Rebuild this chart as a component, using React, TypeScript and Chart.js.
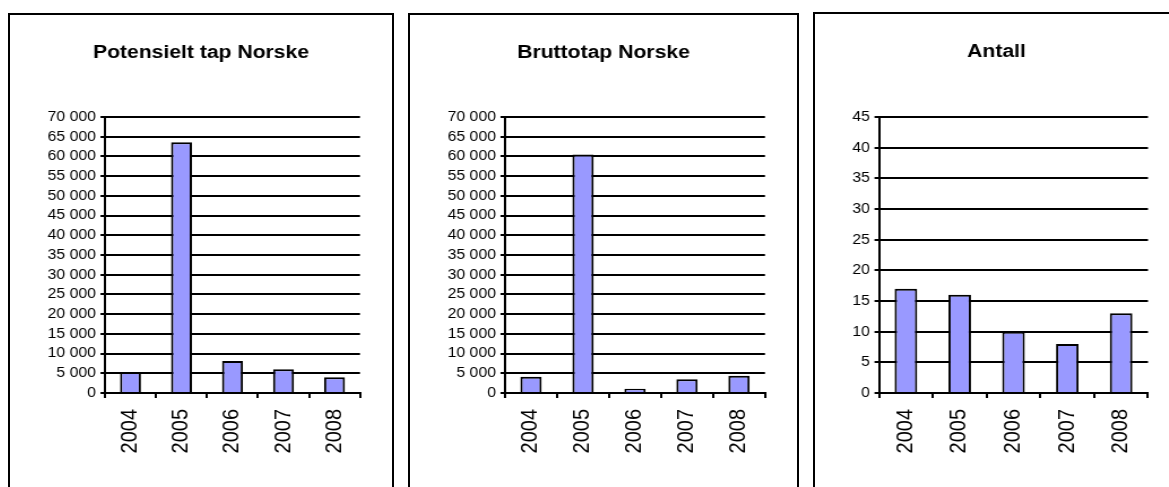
import React, { useEffect, useRef } from 'react';
import { Chart, registerables } from 'chart.js';

Chart.register(...registerables);

// ---- Data ----
const years = ['2004', '2005', '2006', '2007', '2008'];
const potensieltTap = [5300, 63600, 8100, 6000, 4000];
const bruttotap = [4100, 60500, 1100, 3500, 4400];
const antall = [17, 16, 10, 8, 13];

const titles = ['Potensielt tap Norske', 'Bruttotap Norske', 'Antall'];
const yMaxes = [70000, 70000, 45];
const ySteps = [5000, 5000, 5];

const FONT = "'Liberation Sans', Arial, Helvetica, sans-serif";
const STRETCH = 1.13; // horizontal stretch of the reference rendering

const fmt = (v: number) => String(v).replace(/\B(?=(\d{3})+(?!\d))/g, ' ');

type PanelProps = {
  left: number;
  top: number;
  outerW: number;
  outerH: number;
  title: string;
  values: number[];
  yMax: number;
  yStep: number;
  yAxisW: number; // actual px from inner left to y axis
  plotRight: number; // actual px from inner left
  titleCenter: number; // actual px from inner top
  plotTop: number;
  plotBottom: number;
  barPct: number;
};

function Panel(p: PanelProps) {
  const ref = useRef<HTMLCanvasElement | null>(null);
  const innerW = p.outerW - 4;
  const innerH = p.outerH - 4;
  const cw = Math.round(innerW / STRETCH);
  const s = innerW / cw;

  useEffect(() => {
    if (!ref.current) return;
    const titleSize = 18.7;
    const titleLine = titleSize * 1.2;
    const pTop = p.titleCenter - titleLine / 2;
    const pBottom = p.plotTop - titleLine - pTop;
    const yW = p.yAxisW / s;
    const rightPad = cw - p.plotRight / s;
    const xH = innerH - p.plotBottom;

    const chart = new Chart(ref.current, {
      type: 'bar',
      data: {
        labels: years,
        datasets: [
          {
            data: p.values,
            yAxisID: 'y',
            backgroundColor: '#9999FF',
            borderColor: '#000000',
            borderWidth: 2,
            borderSkipped: 'start',
            barPercentage: p.barPct,
            categoryPercentage: 1,
          },
        ],
      },
      options: {
        responsive: false,
        animation: false,
        devicePixelRatio: 1,
        layout: { padding: 0 },
        plugins: {
          legend: { display: false },
          tooltip: { enabled: false },
          title: {
            display: true,
            text: p.title,
            color: '#000000',
            font: { family: FONT, size: titleSize, weight: 'bold' },
            padding: { top: pTop, bottom: pBottom },
          },
        },
        scales: {
          x: {
            grid: {
              display: true,
              drawOnChartArea: false,
              drawTicks: true,
              tickLength: 5,
              color: '#000000',
              lineWidth: 2,
              offset: true,
            },
            border: { display: true, color: '#000000', width: 2 },
            ticks: {
              autoSkip: false,
              minRotation: 90,
              maxRotation: 90,
              padding: 11,
              color: '#000000',
              font: { family: FONT, size: 20 },
            },
            afterFit: (sc: any) => {
              sc.height = xH;
            },
          },
          y: {
            min: 0,
            max: p.yMax,
            position: 'left',
            grid: { color: '#000000', lineWidth: 2, tickLength: 4, drawTicks: true },
            border: { display: true, color: '#000000', width: 2 },
            ticks: {
              autoSkip: false,
              stepSize: p.yStep,
              padding: 4,
              color: '#000000',
              font: { family: FONT, size: 14, lineHeight: 1 },
              callback: (v: any) => fmt(Number(v)),
            },
            afterFit: (sc: any) => {
              sc.width = yW;
            },
          },
          // invisible spacer on the right so the title stays centred on the panel
          spacer: {
            type: 'linear',
            position: 'right',
            display: true,
            grid: { display: false, drawOnChartArea: false },
            border: { display: false },
            ticks: { display: false },
            afterFit: (sc: any) => {
              sc.width = rightPad;
            },
          },
        },
      },
    } as any);
    return () => chart.destroy();
  }, []);

  return (
    <div
      style={{
        position: 'absolute',
        left: p.left,
        top: p.top,
        width: p.outerW,
        height: p.outerH,
        boxSizing: 'border-box',
        border: '2px solid #000',
        background: '#fff',
        overflow: 'hidden',
      }}
    >
      <div
        style={{
          width: cw,
          height: innerH,
          transform: `scaleX(${s})`,
          transformOrigin: '0 0',
        }}
      >
        <canvas ref={ref} width={cw} height={innerH} style={{ width: cw, height: innerH, display: 'block' }} />
      </div>
    </div>
  );
}

export default function App() {
  return (
    <div
      style={{
        position: 'absolute',
        left: 0,
        top: 0,
        width: 1169,
        height: 487,
        overflow: 'hidden',
        background: '#fff',
      }}
    >
      <Panel
        left={8}
        top={13}
        outerW={386}
        outerH={490}
        title={titles[0]}
        values={potensieltTap}
        yMax={yMaxes[0]}
        yStep={ySteps[0]}
        yAxisW={95}
        plotRight={350}
        titleCenter={38.3}
        plotTop={102}
        plotBottom={378}
        barPct={0.41}
      />
      <Panel
        left={408}
        top={13}
        outerW={391}
        outerH={490}
        title={titles[1]}
        values={bruttotap}
        yMax={yMaxes[1]}
        yStep={ySteps[1]}
        yAxisW={95}
        plotRight={355}
        titleCenter={38.3}
        plotTop={102}
        plotBottom={378}
        barPct={0.41}
      />
      <Panel
        left={813}
        top={12}
        outerW={367}
        outerH={490}
        title={titles[2]}
        values={antall}
        yMax={yMaxes[2]}
        yStep={ySteps[2]}
        yAxisW={64}
        plotRight={333}
        titleCenter={37.7}
        plotTop={103}
        plotBottom={379}
        barPct={0.42}
      />
    </div>
  );
}
